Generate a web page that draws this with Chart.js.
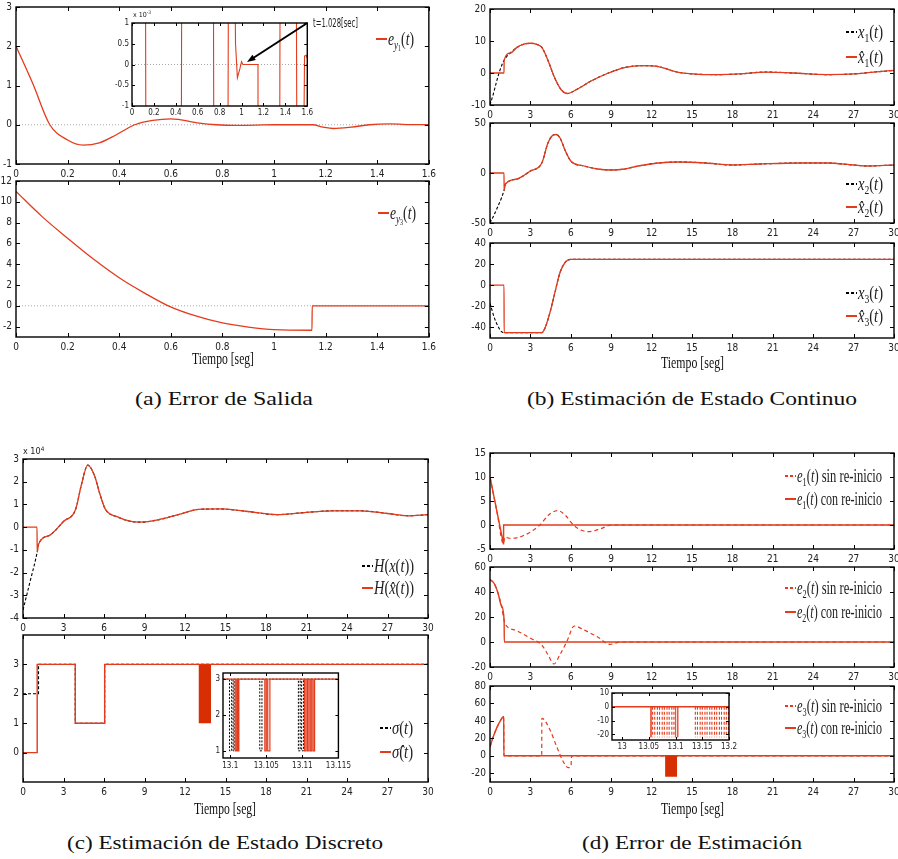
<!DOCTYPE html>
<html>
<head>
<meta charset="utf-8">
<title>Estimación de estado</title>
<script src="https://cdn.jsdelivr.net/npm/chart.js@4.4.1/dist/chart.umd.min.js"></script>
<style>
  html, body { margin: 0; padding: 0; background: #fff; }
  body { position: relative; width: 898px; height: 859px; overflow: hidden; }
  canvas { position: absolute; }
  .txt { position: absolute; white-space: nowrap; line-height: 1; color: #111; }
  .serif { font-family: "Liberation Serif", "DejaVu Serif", serif; }
  .tick { font-family: "Liberation Sans Narrow", "DejaVu Sans Condensed", "Liberation Sans", sans-serif; color: #222; }
  .leg { position: absolute; height: 22px; display: flex; align-items: center; white-space: nowrap; }
  .smp { width: 11px; height: 1.4px; margin-right: 1px; flex: none; }
  .smp.r { background: #e33b1b; }
  .smp.rd { background: repeating-linear-gradient(90deg, #e33b1b 0 3px, transparent 3px 5px); }
  .smp.k { background: repeating-linear-gradient(90deg, #000 0 3px, transparent 3px 5px); height: 1.2px; }
  .lt { display: inline-block; font-family: "Liberation Serif", "DejaVu Serif", serif; font-size: 19px; transform-origin: 0 50%; color: #222; }
  sub { font-size: 66%; vertical-align: -0.3em; line-height: 0; }
  sup { font-size: 70%; vertical-align: 0.55em; line-height: 0; }
</style>
</head>
<body>
<script>
// (a) output errors
const eY1T = [0, 0.065, 0.131, 0.2, 0.26, 0.323, 0.387, 0.46, 0.53, 0.6, 0.71, 0.776, 0.85, 0.93, 1.0, 1.15, 1.19, 1.23, 1.3, 1.37, 1.45, 1.53, 1.6];
const eY1V = [2, 1.05, 0, -0.39, -0.52, -0.46, -0.26, 0, 0.11, 0.15, 0.04, 0, -0.015, -0.01, 0, 0, -0.06, -0.095, -0.06, 0, 0.02, 0.005, 0];
const eY3T = [0, 0.1, 0.2, 0.3, 0.4, 0.5, 0.59, 0.7, 0.8, 0.9, 1.0, 1.147, 1.148, 1.6];
const eY3V = [11, 8.6, 6.5, 4.5, 2.7, 1.2, 0, -1.0, -1.65, -2.05, -2.3, -2.35, 0, 0];
// inset of e_y1, values in 1e-3
const insT = [0.12, 0.13, 0.447, 0.457, 0.74, 0.75, 0.872, 0.884, 0.925, 0.945, 0.962, 0.985, 1.0, 1.012, 1.15, 1.152, 1.345, 1.355, 1.495, 1.51, 1.555, 1.575, 1.59, 1.6];
const insV = [6, -6, -6, 6, 6, -6, -6, 6, 6, 0.5, -0.32, -0.1, 0.07, 0, 0, -6, -6, 6, 6, -6, -6, 0.2, 0.22, 0.15];
const arrowFrom = [1.6, 1];
const arrowTo = [1.05, 0.06];
const zeroAT = [0, 1.6];
const zeroAV = [0, 0];
const ticksTA = [0, 0.2, 0.4, 0.6, 0.8, 1, 1.2, 1.4, 1.6];

// (b) continuous state
const x1HatT = [0, 1.04, 1.05, 1.5, 2, 2.5, 3, 3.5, 3.85, 4.3, 4.8, 5.3, 5.75, 6.5, 7.5, 8.8, 10, 11.3, 12.5, 13.9, 15.5, 17, 18.5, 20.5, 22.5, 25, 27, 28.5, 30];
const x1HatV = [0, 0, 4, 6.2, 8, 9, 9.3, 8.9, 8, 4, -1.5, -5.3, -6.4, -5, -2.5, 0, 1.7, 2.3, 2, 0.3, -0.4, -0.5, -0.3, 0.3, 0, -0.5, -0.3, 0.3, 0.8];
const x1InitT = [0, 0.25, 0.5, 0.75];
const x1InitV = [-10, -6.5, -2.5, 1];
const x2HatT = [0, 1.04, 1.05, 1.15, 2, 3, 3.85, 4.3, 4.6, 4.9, 5.2, 5.6, 6, 7, 8, 9, 10, 11, 12.5, 14, 16, 18, 20, 23, 25, 27, 28, 30];
const x2HatV = [0, 0, -17, -11, -6, 2, 10, 30, 37, 38.5, 35, 22, 12, 7, 4, 3, 4, 7, 10, 11, 10, 8, 9, 10, 10, 8, 7, 8];
const x2InitT = [0, 0.3, 0.6, 0.85];
const x2InitV = [-50, -42, -33, -25];
const x3HatT = [0, 1.04, 1.05, 3.85, 4.1, 4.45, 4.8, 5.2, 5.6, 6, 30];
const x3HatV = [0, 0, -45, -45, -40, -26, -8, 12, 22, 24.5, 24.5];
const x3InitT = [0, 0.3, 0.6, 0.85];
const x3InitV = [-17, -30, -39, -44];
const ticksT30 = [0, 3, 6, 9, 12, 15, 18, 21, 24, 27, 30];

// (c) discrete state, H in 1e4
const hHatT = [0, 1.04, 1.05, 1.15, 2, 3, 3.9, 4.3, 4.8, 5.3, 5.7, 6.1, 7, 8, 8.7, 10, 11.5, 13, 14.5, 16.5, 18.8, 21, 23, 25, 27, 28.5, 30];
const hHatV = [0, 0, -1.1, -0.75, -0.35, 0.25, 0.79, 1.8, 2.73, 2.26, 1.45, 0.79, 0.45, 0.25, 0.22, 0.32, 0.55, 0.78, 0.8, 0.7, 0.55, 0.65, 0.72, 0.72, 0.6, 0.5, 0.55];
const hInitT = [0, 0.5];
const hInitV = [-3.65, -2.45];
const sigmaT = [0, 1.15, 1.15, 3.87, 3.87, 6.05, 6.05, 30];
const sigmaV = [2, 2, 3, 3, 1, 1, 3, 3];
const sigmaHatT = [0, 1.05, 1.05, 3.87, 3.87, 6.05, 6.05, 30];
const sigmaHatV = [0, 0, 3, 3, 1, 1, 3, 3];
const chatterT = [13.0, 13.93];
const chatterHi = [3, 3];
const chatterLo = 1;
// inset of sigma: switching pulses 3 -> 1 -> 3
const sigmaPulses = [[13.0999, 13.1002], [13.1004, 13.10055], [13.1041, 13.1044], [13.10945, 13.1097], [13.1099, 13.11015]];
const sigmaHatPulses = [[13.1007, 13.1009], [13.10105, 13.1012], [13.1048, 13.105], [13.1052, 13.1055], [13.1103, 13.1105], [13.1107, 13.1109], [13.1111, 13.1113], [13.1115, 13.1117]];

// (d) estimation error
const e1ConT = [0, 0.5, 1.0, 1.01, 30];
const e1ConV = [10, 3, -3.9, 0, 0];
const e1SinT = [0, 0.5, 1.0, 1.1, 1.5, 2.5, 3.7, 4.4, 5.05, 5.6, 6.2, 6.8, 7.3, 8.2, 9, 30];
const e1SinV = [10, 3, -3.9, -2.5, -2.8, -2.2, 0, 2.2, 3.0, 2.0, 0, -1.1, -1.4, -0.8, 0, 0];
const e2ConT = [0, 0.3, 0.6, 0.85, 1.05, 1.06, 30];
const e2ConV = [50, 47, 39, 29, 17, 0, 0];
const e2SinT = [0, 0.3, 0.6, 0.85, 1.05, 1.15, 2, 3, 3.84, 4.3, 4.75, 5.2, 5.69, 6.26, 7, 8, 8.9, 9.7, 30];
const e2SinV = [50, 47, 39, 29, 17, 14, 9, 3, -2.4, -10, -17.6, -10, 0, 12.8, 9.5, 4, -1.9, 0, 0];
const e3ConT = [0, 0.2, 0.5, 0.8, 1.02, 1.03, 30];
const e3ConV = [10, 20, 32, 41, 45, 0, 0];
const e3SinT = [0, 0.2, 0.5, 0.8, 1.02, 1.03, 3.84, 3.85, 4.46, 4.95, 5.45, 5.8, 6.02, 6.05, 30];
const e3SinV = [10, 20, 32, 41, 45, 0, 0, 43, 29.5, 10.6, -7, -13.6, -12, 0, 0];
const e3ChatterT = [13.0, 13.9];
const e3ChatterLo = [-24, -24];
// inset of e3: dashed chattering lines and solid ones, from 0 down to e3InsDepth
const e3InsDashT = [13.057, 13.061, 13.066, 13.070, 13.075, 13.079, 13.084, 13.088, 13.093, 13.097, 13.137, 13.141, 13.146, 13.150, 13.155, 13.159, 13.164, 13.168, 13.173, 13.177, 13.182, 13.186, 13.191, 13.195, 13.199];
const e3InsSolidT = [13.054, 13.1, 13.104];
const e3InsDepth = -22;
const e3InsLineT = [12.981, 13.2];
const e3InsLineV = [0, 0];

const RED = '#e33b1b';
const TICKFONT = "'Liberation Sans Narrow', 'DejaVu Sans Condensed', 'Liberation Sans', sans-serif";
Chart.defaults.font.family = TICKFONT;

function pts(xs, ys) { return xs.map((x, i) => ({ x, y: ys[i] })); }
function pulsePts(x0, x1, hi, lo, pulses) {
  const p = [{ x: x0, y: hi }];
  pulses.forEach(([a, b]) => { p.push({ x: a, y: hi }, { x: a, y: lo }, { x: b, y: lo }, { x: b, y: hi }); });
  p.push({ x: x1, y: hi });
  return p;
}
function vlines(xs, y0, y1) {
  const p = [];
  xs.forEach(x => { p.push({ x, y: y0 }, { x, y: y1 }, { x, y: null }); });
  return p;
}
function ds(data, o) {
  return Object.assign({ data, borderColor: RED, borderWidth: 1.3, pointRadius: 0, fill: false, tension: 0, spanGaps: false }, o || {});
}
const smooth = { cubicInterpolationMode: 'monotone' };
const blackDash = { borderColor: '#000', borderWidth: 1.1, borderDash: [3, 2] };

// white background for the insets, starting just above their plot box
const bgPlugin = {
  id: 'bg',
  beforeDraw(chart, args, opts) {
    if (!opts.on) return;
    const { ctx, chartArea: a, width, height } = chart;
    ctx.save();
    ctx.fillStyle = '#fff';
    ctx.fillRect(0, a.top - opts.top, width, height);
    ctx.restore();
  }
};

const boxPlugin = {
  id: 'box',
  afterDatasetsDraw(chart, args, opts) {
    const { ctx, chartArea: a, scales } = chart;
    const L = opts.tick || 4;
    ctx.save();
    ctx.strokeStyle = '#000';
    ctx.lineWidth = 1;
    ctx.beginPath();
    scales.x.ticks.forEach(t => {
      const p = Math.round(scales.x.getPixelForValue(t.value)) + 0.5;
      ctx.moveTo(p, a.bottom); ctx.lineTo(p, a.bottom - L);
      ctx.moveTo(p, a.top); ctx.lineTo(p, a.top + L);
    });
    scales.y.ticks.forEach(t => {
      const p = Math.round(scales.y.getPixelForValue(t.value)) + 0.5;
      ctx.moveTo(a.left, p); ctx.lineTo(a.left + L, p);
      ctx.moveTo(a.right, p); ctx.lineTo(a.right - L, p);
    });
    ctx.stroke();
    ctx.lineWidth = opts.lw || 1.4;
    ctx.strokeRect(a.left, a.top, a.right - a.left, a.bottom - a.top);
    ctx.restore();
  }
};

const arrowPlugin = {
  id: 'arrow',
  afterDraw(chart) {
    const { ctx, scales: { x, y } } = chart;
    const x0 = x.getPixelForValue(arrowFrom[0]), y0 = y.getPixelForValue(arrowFrom[1]);
    const x1 = x.getPixelForValue(arrowTo[0]), y1 = y.getPixelForValue(arrowTo[1]);
    const ang = Math.atan2(y1 - y0, x1 - x0);
    ctx.save();
    ctx.strokeStyle = '#000'; ctx.fillStyle = '#000'; ctx.lineWidth = 2;
    ctx.beginPath();
    ctx.moveTo(x0, y0);
    ctx.lineTo(x1 - 6 * Math.cos(ang), y1 - 6 * Math.sin(ang));
    ctx.stroke();
    ctx.beginPath();
    ctx.moveTo(x1, y1);
    ctx.lineTo(x1 - 9 * Math.cos(ang - 0.35), y1 - 9 * Math.sin(ang - 0.35));
    ctx.lineTo(x1 - 9 * Math.cos(ang + 0.35), y1 - 9 * Math.sin(ang + 0.35));
    ctx.closePath();
    ctx.fill();
    ctx.restore();
  }
};

function panel(box, xr, yr, xt, yt, datasets, o) {
  o = o || {};
  const yw = o.yw || 24, xh = o.xh || 17, pt = o.pt || 10, pr = o.pr || 10;
  const w = box.r - box.l, h = box.b - box.t;
  const c = document.createElement('canvas');
  c.width = yw + w + pr;
  c.height = pt + h + xh;
  c.style.left = (box.l - yw) + 'px';
  c.style.top = (box.t - pt) + 'px';
  document.body.appendChild(c);
  const font = { family: TICKFONT, size: o.fs || 10 };
  return new Chart(c, {
    type: 'line',
    data: { datasets },
    options: {
      responsive: false,
      animation: false,
      devicePixelRatio: 1,
      layout: { padding: { top: pt, right: pr, left: 0, bottom: 0 } },
      plugins: {
        legend: { display: false }, tooltip: { enabled: false },
        box: { tick: o.tick || 4, lw: 1.4 },
        bg: { on: !!o.bg, top: 4 }
      },
      elements: { point: { radius: 0 } },
      scales: {
        x: {
          type: 'linear', min: xr[0], max: xr[1],
          grid: { display: false, drawTicks: false }, border: { display: false },
          afterBuildTicks: s => { s.ticks = xt.map(v => ({ value: v })); },
          afterFit: s => { s.height = xh; },
          ticks: { autoSkip: false, maxRotation: 0, padding: o.xpad || 4, color: '#222', font, callback: v => String(v) }
        },
        y: {
          type: 'linear', min: yr[0], max: yr[1],
          grid: { display: false, drawTicks: false }, border: { display: false },
          afterBuildTicks: s => { s.ticks = yt.map(v => ({ value: v })); },
          afterFit: s => { s.width = yw; },
          ticks: { autoSkip: false, padding: o.ypad || 4, color: '#222', font, callback: v => String(v) }
        }
      }
    },
    plugins: [bgPlugin, boxPlugin].concat(o.plugins || [])
  });
}

function text(html, x, y, w, cls, size, align) {
  const d = document.createElement('div');
  d.className = 'txt ' + cls;
  d.style.fontSize = size + 'px';
  d.innerHTML = html;
  document.body.appendChild(d);
  const r = d.getBoundingClientRect();
  const k = w ? w / r.width : 1;
  d.style.transformOrigin = '0 0';
  d.style.transform = 'scaleX(' + k + ')';
  d.style.left = (align === 'left' ? x : x - r.width * k / 2) + 'px';
  d.style.top = (y - r.height / 2) + 'px';
}

function legend(x, y, kind, html, w) {
  const d = document.createElement('div');
  d.className = 'leg';
  d.style.left = x + 'px';
  d.style.top = (y - 11) + 'px';
  d.innerHTML = '<span class="smp ' + kind + '"></span><span class="lt">' + html + '</span>';
  document.body.appendChild(d);
  const t = d.lastChild;
  t.style.transform = 'scaleX(' + (w / t.getBoundingClientRect().width) + ')';
}

// ---------- (a) ----------
const zeroStyle = { borderColor: '#a8a8a8', borderWidth: 1, borderDash: [1, 2] };
panel({ l: 16, t: 7, r: 430, b: 164 }, [0, 1.6], [-1, 3], ticksTA, [-1, 0, 1, 2, 3], [
  ds(pts(eY1T, eY1V), smooth),
  ds(pts(zeroAT, zeroAV), zeroStyle)
], { yw: 16 });
panel({ l: 16, t: 181, r: 430, b: 337 }, [0, 1.6], [-3, 12], ticksTA, [-2, 0, 2, 4, 6, 8, 10, 12], [
  ds(pts(eY3T, eY3V), smooth),
  ds(pts(zeroAT, zeroAV), zeroStyle)
], { yw: 16 });

// ---------- (b) ----------
panel({ l: 490, t: 9, r: 894, b: 105 }, [0, 30], [-10, 20], ticksT30, [-10, 0, 10, 20], [
  ds(pts(x1HatT, x1HatV), smooth),
  ds(pts(x1InitT.concat(x1HatT.slice(2)), x1InitV.concat(x1HatV.slice(2))), Object.assign({}, smooth, blackDash))
]);
panel({ l: 490, t: 123, r: 894, b: 223 }, [0, 30], [-50, 50], ticksT30, [-50, 0, 50], [
  ds(pts(x2HatT, x2HatV), smooth),
  ds(pts(x2InitT.concat(x2HatT.slice(2)), x2InitV.concat(x2HatV.slice(2))), Object.assign({}, smooth, blackDash))
]);
panel({ l: 490, t: 243, r: 894, b: 338 }, [0, 30], [-50, 40], ticksT30, [-40, -20, 0, 20, 40], [
  ds(pts(x3HatT, x3HatV), smooth),
  ds(pts(x3InitT.concat(x3HatT.slice(2)), x3InitV.concat(x3HatV.slice(2))), Object.assign({}, smooth, blackDash))
]);

// ---------- (c) ----------
panel({ l: 23, t: 459, r: 428, b: 618 }, [0, 30], [-4, 3], ticksT30, [-4, -3, -2, -1, 0, 1, 2, 3], [
  ds(pts(hHatT, hHatV), smooth),
  ds(pts(hInitT.concat(hHatT.slice(2)), hInitV.concat(hHatV.slice(2))), Object.assign({}, smooth, blackDash))
], { yw: 20 });
panel({ l: 23, t: 635, r: 428, b: 782 }, [0, 30], [-1, 4], ticksT30, [0, 1, 2, 3], [
  ds(pts(chatterT, chatterHi), { borderWidth: 0, fill: { value: chatterLo }, backgroundColor: '#d82e04' }),
  ds(pts(sigmaHatT, sigmaHatV), { borderWidth: 1.4 }),
  ds(pts(sigmaT, sigmaV), blackDash)
], { yw: 20 });

// ---------- (d) ----------
const redDash = { borderDash: [4, 3], borderWidth: 1.2 };
panel({ l: 490, t: 453, r: 894, b: 549 }, [0, 30], [-5, 15], ticksT30, [-5, 0, 5, 10, 15], [
  ds(pts(e1ConT, e1ConV), { borderWidth: 1.4 }),
  ds(pts(e1SinT, e1SinV), Object.assign({}, smooth, redDash))
]);
panel({ l: 490, t: 567, r: 894, b: 667 }, [0, 30], [-20, 60], ticksT30, [-20, 0, 20, 40, 60], [
  ds(pts(e2ConT, e2ConV), Object.assign({ borderWidth: 1.4 }, smooth)),
  ds(pts(e2SinT, e2SinV), Object.assign({}, smooth, redDash))
]);
panel({ l: 490, t: 686, r: 894, b: 782 }, [0, 30], [-30, 80], ticksT30, [-20, 0, 20, 40, 60, 80], [
  ds(pts(e3ChatterT, e3ChatterLo), { borderWidth: 0, fill: { value: 0 }, backgroundColor: '#d82e04' }),
  ds(pts(e3ConT, e3ConV), Object.assign({ borderWidth: 1.4 }, smooth)),
  ds(pts(e3SinT, e3SinV), Object.assign({}, smooth, redDash))
]);

// ---------- insets ----------
panel({ l: 132, t: 23, r: 311, b: 106 }, [0, 1.6], [-1, 1], ticksTA, [-1, -0.5, 0, 0.5, 1], [
  ds(pts(insT, insV), { borderWidth: 1.1 }),
  ds(pts(zeroAT, zeroAV), zeroStyle)
], { yw: 20, xh: 12, pt: 8, pr: 4, fs: 8, tick: 3, xpad: 2, ypad: 3, bg: true, plugins: [arrowPlugin] });

panel({ l: 223, t: 673, r: 340, b: 758 }, [13.099, 13.115], [0.8, 3.17], [13.1, 13.105, 13.11, 13.115], [1, 2, 3], [
  ds(pulsePts(13.099, 13.115, 3, 1, sigmaHatPulses), { borderWidth: 1.2 }),
  ds(pulsePts(13.099, 13.115, 3, 1, sigmaPulses), { borderColor: '#000', borderWidth: 1, borderDash: [2, 1.5] })
], { yw: 11, xh: 14, pt: 8, pr: 14, fs: 8, tick: 3, xpad: 3, ypad: 3, bg: true });

panel({ l: 612, t: 693, r: 729, b: 740 }, [12.981, 13.2], [-24, 10], [13, 13.05, 13.1, 13.15, 13.2], [-20, -10, 0, 10], [
  ds(pts(e3InsLineT, e3InsLineV), { borderWidth: 1.4 }),
  ds(vlines(e3InsSolidT, 0, e3InsDepth), { borderWidth: 1, borderColor: '#e8583c' }),
  ds(vlines(e3InsDashT, 0, e3InsDepth), { borderWidth: 1.1, borderDash: [3, 2] })
], { yw: 17, xh: 12, pt: 8, pr: 10, fs: 8, tick: 3, xpad: 2, ypad: 3, bg: true });

// ---------- texts ----------
text('x 10<sup>-3</sup>', 133, 15, 0, 'tick', 7, 'left');
text('t=1.028[sec]', 313, 22, 45, 'tick', 13, 'left');
text('x 10<sup>4</sup>', 23, 451, 0, 'tick', 9, 'left');

text('Tiempo [seg]', 223, 358, 62, 'serif', 17);
text('Tiempo [seg]', 692, 362, 63, 'serif', 17);
text('Tiempo [seg]', 225, 808, 62, 'serif', 17);
text('Tiempo [seg]', 692, 808, 63, 'serif', 17);

text('(a) Error de Salida', 224, 398, 178, 'serif', 19);
text('(b) Estimación de Estado Continuo', 692, 398, 330, 'serif', 19);
text('(c) Estimación de Estado Discreto', 225, 842, 316, 'serif', 19);
text('(d) Error de Estimación', 692, 842, 220, 'serif', 19);

const xh1 = '<i>x&#770;</i>';
legend(376, 39, 'r', '<i>e</i><sub><i>y</i><sub>1</sub></sub>(<i>t</i>)', 26);
legend(378, 213, 'r', '<i>e</i><sub><i>y</i><sub>3</sub></sub>(<i>t</i>)', 26);

legend(846, 32, 'k', '<i>x</i><sub>1</sub>(<i>t</i>)', 25);
legend(846, 57, 'r', xh1 + '<sub>1</sub>(<i>t</i>)', 25);
legend(846, 184, 'k', '<i>x</i><sub>2</sub>(<i>t</i>)', 25);
legend(846, 207, 'r', xh1 + '<sub>2</sub>(<i>t</i>)', 25);
legend(846, 293, 'k', '<i>x</i><sub>3</sub>(<i>t</i>)', 25);
legend(846, 316, 'r', xh1 + '<sub>3</sub>(<i>t</i>)', 25);

legend(362, 566, 'k', '<i>H</i>(<i>x</i>(<i>t</i>))', 40);
legend(362, 588, 'r', '<i>H</i>(' + xh1 + '(<i>t</i>))', 40);
legend(380, 728, 'k', '<i>σ</i>(<i>t</i>)', 21);
legend(380, 752, 'r', '<i>σ&#770;</i>(<i>t</i>)', 21);

legend(785, 476, 'rd', '<i>e</i><sub>1</sub>(<i>t</i>) sin re-inicio', 85);
legend(785, 499, 'r', '<i>e</i><sub>1</sub>(<i>t</i>) con re-inicio', 85);
legend(785, 588, 'rd', '<i>e</i><sub>2</sub>(<i>t</i>) sin re-inicio', 85);
legend(785, 612, 'r', '<i>e</i><sub>2</sub>(<i>t</i>) con re-inicio', 85);
legend(785, 706, 'rd', '<i>e</i><sub>3</sub>(<i>t</i>) sin re-inicio', 85);
legend(785, 728, 'r', '<i>e</i><sub>3</sub>(<i>t</i>) con re-inicio', 85);
</script>
</body>
</html>
